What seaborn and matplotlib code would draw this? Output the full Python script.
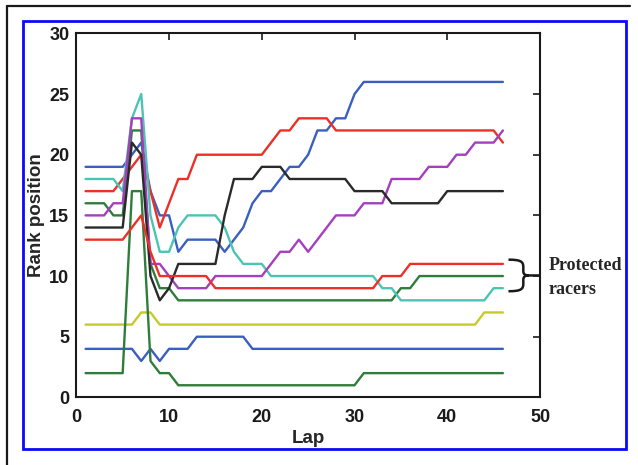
import numpy as np
import pandas as pd
import matplotlib
matplotlib.use("Agg")
import matplotlib.pyplot as plt
from matplotlib.path import Path
from matplotlib.patches import PathPatch, Rectangle
from matplotlib.lines import Line2D
import seaborn as sns

# rank position of each racer per lap (laps 1..46)
laps = list(range(1, 47))

blue_top = [19, 19, 19, 19, 19, 20, 21, 17, 15, 15, 12, 13, 13, 13, 13, 12, 13, 14, 16, 17,
            17, 18, 19, 19, 20, 22, 22, 23, 23, 25, 26, 26, 26, 26, 26, 26, 26, 26, 26, 26,
            26, 26, 26, 26, 26, 26]
green_mid = [16, 16, 16, 15, 15, 22, 22, 11, 9, 9, 8, 8, 8, 8, 8, 8, 8, 8, 8, 8,
             8, 8, 8, 8, 8, 8, 8, 8, 8, 8, 8, 8, 8, 8, 9, 9, 10, 10, 10, 10,
             10, 10, 10, 10, 10, 10]
red_top = [17, 17, 17, 17, 18, 19, 20, 17, 14, 16, 18, 18, 20, 20, 20, 20, 20, 20, 20, 20,
           21, 22, 22, 23, 23, 23, 23, 22, 22, 22, 22, 22, 22, 22, 22, 22, 22, 22, 22, 22,
           22, 22, 22, 22, 22, 21]
cyan = [18, 18, 18, 18, 17, 23, 25, 15, 12, 12, 14, 15, 15, 15, 15, 14, 12, 11, 11, 11,
        10, 10, 10, 10, 10, 10, 10, 10, 10, 10, 10, 10, 9, 9, 8, 8, 8, 8, 8, 8,
        8, 8, 8, 8, 9, 9]
magenta = [15, 15, 15, 16, 16, 23, 23, 11, 11, 10, 9, 9, 9, 9, 10, 10, 10, 10, 10, 10,
           11, 12, 12, 13, 12, 13, 14, 15, 15, 15, 16, 16, 16, 18, 18, 18, 18, 19, 19, 19,
           20, 20, 21, 21, 21, 22]
yellow = [6, 6, 6, 6, 6, 6, 7, 7, 6, 6, 6, 6, 6, 6, 6, 6, 6, 6, 6, 6,
          6, 6, 6, 6, 6, 6, 6, 6, 6, 6, 6, 6, 6, 6, 6, 6, 6, 6, 6, 6,
          6, 6, 6, 7, 7, 7]
black = [14, 14, 14, 14, 14, 21, 20, 10, 8, 9, 11, 11, 11, 11, 11, 15, 18, 18, 18, 19,
         19, 19, 18, 18, 18, 18, 18, 18, 18, 17, 17, 17, 17, 16, 16, 16, 16, 16, 16, 17,
         17, 17, 17, 17, 17, 17]
blue_low = [4, 4, 4, 4, 4, 4, 3, 4, 3, 4, 4, 4, 5, 5, 5, 5, 5, 5, 4, 4,
            4, 4, 4, 4, 4, 4, 4, 4, 4, 4, 4, 4, 4, 4, 4, 4, 4, 4, 4, 4,
            4, 4, 4, 4, 4, 4]
green_low = [2, 2, 2, 2, 2, 17, 17, 3, 2, 2, 1, 1, 1, 1, 1, 1, 1, 1, 1, 1,
             1, 1, 1, 1, 1, 1, 1, 1, 1, 1, 2, 2, 2, 2, 2, 2, 2, 2, 2, 2,
             2, 2, 2, 2, 2, 2]
red_low = [13, 13, 13, 13, 13, 14, 15, 12, 10, 10, 10, 10, 10, 10, 9, 9, 9, 9, 9, 9,
           9, 9, 9, 9, 9, 9, 9, 9, 9, 9, 9, 9, 10, 10, 10, 11, 11, 11, 11, 11,
           11, 11, 11, 11, 11, 11]

racers = ["blue_top", "green_mid", "red_top", "cyan", "magenta",
          "yellow", "black", "blue_low", "green_low", "red_low"]
series = [blue_top, green_mid, red_top, cyan, magenta,
          yellow, black, blue_low, green_low, red_low]
colors = ["#3a5fbf", "#2e7d3a", "#ec3029", "#4cc4b4", "#a43fbd",
          "#c9c92a", "#2a2a2a", "#3a5fbf", "#2e7d3a", "#ec3029"]

df = pd.DataFrame({
    "lap": laps * len(racers),
    "rank": [v for s in series for v in s],
    "racer": [r for r in racers for _ in laps],
})

sns.set_style("white")
plt.rcParams["font.family"] = ["Liberation Sans", "DejaVu Sans"]

fig = plt.figure(figsize=(6.38, 4.65), dpi=100)
ax = fig.add_axes([0.1196, 0.1454, 0.7268, 0.7828])

sns.lineplot(data=df, x="lap", y="rank", hue="racer", hue_order=racers,
             palette=dict(zip(racers, colors)), linewidth=1.7, legend=False,
             sort=False, ax=ax)

ax.set_xlim(0, 50)
ax.set_ylim(0, 30)
ax.set_xticks([0, 10, 20, 30, 40, 50])
ax.set_yticks([0, 5, 10, 15, 20, 25, 30])
ax.tick_params(direction="in", top=True, right=True, length=5, width=1.2,
               labelsize=13, colors="#1a1a1a")
ax.tick_params(axis="x", pad=8)
ax.tick_params(axis="y", pad=5)
for lab in ax.get_xticklabels() + ax.get_yticklabels():
    lab.set_fontweight("bold")
for sp in ax.spines.values():
    sp.set_linewidth(1.5)
    sp.set_color("#1a1a1a")
ax.set_xlabel("Lap", fontsize=13.5, fontweight="bold", labelpad=3)
ax.set_ylabel("Rank position", fontsize=13.5, fontweight="bold", labelpad=3)

# curly brace marking the protected racers
verts = [(46.6, 11.35), (47.9, 11.35), (48.2, 11.2), (48.2, 10.75),
         (48.2, 10.4),
         (48.2, 10.15), (48.4, 10.05), (48.8, 10.05),
         (50.0, 10.05),
         (48.8, 10.05),
         (48.4, 10.05), (48.2, 9.95), (48.2, 9.7),
         (48.2, 9.35),
         (48.2, 8.9), (47.9, 8.75), (46.6, 8.75)]
codes = [Path.MOVETO, Path.CURVE4, Path.CURVE4, Path.CURVE4,
         Path.LINETO,
         Path.CURVE4, Path.CURVE4, Path.CURVE4,
         Path.LINETO,
         Path.MOVETO,
         Path.CURVE4, Path.CURVE4, Path.CURVE4,
         Path.LINETO,
         Path.CURVE4, Path.CURVE4, Path.CURVE4]
ax.add_patch(PathPatch(Path(verts, codes), fill=False, lw=1.8,
                       color="#1a1a1a", clip_on=False))
ax.text(50.9, 10.9, "Protected", ha="left", va="center", fontsize=13,
        fontweight="bold", family="Liberation Serif", clip_on=False)
ax.text(50.9, 8.9, "racers", ha="left", va="center", fontsize=13,
        fontweight="bold", family="Liberation Serif", clip_on=False)

# frame lines around the figure
fig.add_artist(Rectangle((23 / 638, 1 - 449 / 465), (626 - 23) / 638, (449 - 21) / 465,
                         transform=fig.transFigure, fill=False, ec="#0a0af5", lw=2.0))
fig.add_artist(Line2D([7 / 638, 7 / 638], [0, 1 - 6 / 465], transform=fig.transFigure,
                      color="#1a1a1a", lw=1.6))
fig.add_artist(Line2D([7 / 638, 630 / 638], [1 - 6 / 465, 1 - 6 / 465],
                      transform=fig.transFigure, color="#1a1a1a", lw=1.6))

fig.savefig("out.png", dpi=100)
